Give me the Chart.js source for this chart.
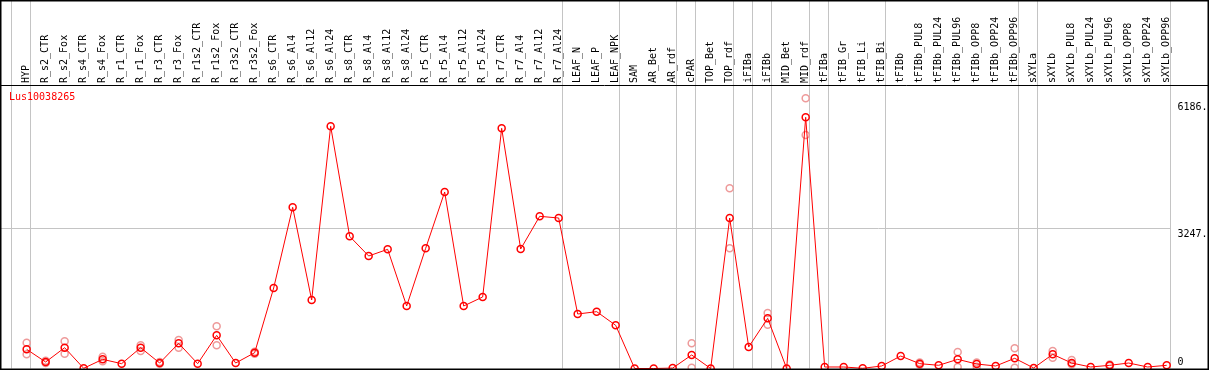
<!DOCTYPE html>
<html>
<head>
<meta charset="utf-8">
<script src="https://cdn.jsdelivr.net/npm/chart.js@4"></script>
<style>
  body { margin: 0; background: #fff; }
</style>
</head>
<body>
<canvas id="grafico" width="1209" height="370"></canvas>
<script>
var gene = 'Lus10038265';

var categorias = ['HYP', 'R_s2_CTR', 'R_s2_Fox', 'R_s4_CTR', 'R_s4_Fox', 'R_r1_CTR', 'R_r1_Fox',
  'R_r3_CTR', 'R_r3_Fox', 'R_r1s2_CTR', 'R_r1s2_Fox', 'R_r3s2_CTR', 'R_r3s2_Fox',
  'R_s6_CTR', 'R_s6_Al4', 'R_s6_Al12', 'R_s6_Al24', 'R_s8_CTR', 'R_s8_Al4', 'R_s8_Al12', 'R_s8_Al24',
  'R_r5_CTR', 'R_r5_Al4', 'R_r5_Al12', 'R_r5_Al24', 'R_r7_CTR', 'R_r7_Al4', 'R_r7_Al12', 'R_r7_Al24',
  'LEAF_N', 'LEAF_P', 'LEAF_NPK', 'SAM', 'AR_Bet', 'AR_rdf', 'cPAR', 'TOP_Bet', 'TOP_rdf',
  'iFIBa', 'iFIBb', 'MID_Bet', 'MID_rdf', 'tFIBa', 'tFIB_Gr', 'tFIB_Li', 'tFIB_Bi', 'tFIBb',
  'tFIBb_PUL8', 'tFIBb_PUL24', 'tFIBb_PUL96', 'tFIBb_OPP8', 'tFIBb_OPP24', 'tFIBb_OPP96',
  'sXYLa', 'sXYLb', 'sXYLb_PUL8', 'sXYLb_PUL24', 'sXYLb_PUL96', 'sXYLb_OPP8', 'sXYLb_OPP24', 'sXYLb_OPP96'];

// media das replicas
var medias = [444, 150, 482, 5, 212, 112, 482, 127, 583, 112, 768, 127, 366,
  1864, 3733, 1586, 5609, 3061, 2605, 2760, 1447, 2783, 4088, 1447, 1656, 5562, 2767, 3524, 3485,
  1262, 1316, 1000, 0, 0, 10, 313, 0, 3485, 498, 1162, 0, 5817, 35, 35, 5, 58, 289,
  112, 74, 212, 104, 58, 236, 12, 328, 127, 35, 74, 127, 35, 74];

// replicas (null = nao visivel)
var replica1 = [598, 180, 629, null, 274, null, 537, 150, 660, null, 977, null, 390,
  null, null, null, null, null, null, null, null, null, null, null, null, null, null, null, null,
  null, null, null, null, null, null, 583, null, 4173, null, 1285, null, 6257, null, null, null, null, null,
  140, null, 382, 140, null, 467, null, 405, 197, null, 90, null, null, null];
var replica2 = [328, 125, 343, null, 166, null, 405, 110, 482, null, 537, null, 340,
  null, null, null, null, null, null, null, null, null, null, null, null, null, null, null, null,
  null, null, null, null, null, null, 19, null, 2783, null, 1015, null, 5408, null, null, null, null, null,
  85, null, 35, 40, null, 19, null, 250, 100, null, 55, null, null, null];

// ultimo indice de cada grupo (-1 = inicio)
var fimGrupos = [-1, 0, 28, 31, 34, 35, 37, 38, 39, 41, 42, 45, 52, 53, 60];

var ticksY = [0, 3247, 6186];

var cinza = '#c4c4c4';
var fonte = { family: 'DejaVu Sans Mono', size: 10 };

function pontos(lista) {
  var out = [];
  lista.forEach(function (v, i) {
    if (v !== null) out.push({ x: i, y: v });
  });
  return out;
}

function semPadding(s) {
  s.paddingTop = 0;
  s.paddingBottom = 0;
  s.paddingLeft = 0;
  s.paddingRight = 0;
}

var moldura = {
  id: 'moldura',
  afterDraw: function (chart) {
    var c = chart.ctx;
    var area = chart.chartArea;
    c.save();
    c.strokeStyle = '#000';
    c.lineWidth = 1;
    c.beginPath();
    c.moveTo(0, Math.round(area.top) - 0.5);
    c.lineTo(chart.width, Math.round(area.top) - 0.5);
    c.stroke();
    c.lineWidth = 2;
    c.strokeRect(0.5, 0.5, chart.width - 1, chart.height - 1);
    c.fillStyle = '#ff0000';
    c.font = '10px "DejaVu Sans Mono"';
    c.textBaseline = 'middle';
    c.fillText(gene, 9, area.top + 11);
    c.restore();
  }
};

var ctx = document.getElementById('grafico').getContext('2d');
var grafico = new Chart(ctx, {
  type: 'line',
  data: {
    datasets: [{
      data: pontos(medias),
      borderColor: '#ff0000',
      borderWidth: 1,
      pointStyle: 'circle',
      pointRadius: 3.5,
      pointBorderWidth: 1.5,
      pointBorderColor: '#ff0000',
      pointBackgroundColor: 'rgba(0,0,0,0)',
      tension: 0,
      clip: false
    }, {
      type: 'scatter',
      data: pontos(replica1),
      showLine: false,
      pointRadius: 3.5,
      pointBorderWidth: 1.5,
      pointBorderColor: '#ee9a9a',
      pointBackgroundColor: 'rgba(0,0,0,0)',
      clip: false
    }, {
      type: 'scatter',
      data: pontos(replica2),
      showLine: false,
      pointRadius: 3.5,
      pointBorderWidth: 1.5,
      pointBorderColor: '#ee9a9a',
      pointBackgroundColor: 'rgba(0,0,0,0)',
      clip: false
    }]
  },
  options: {
    responsive: false,
    animation: false,
    layout: { autoPadding: false, padding: { left: 1, right: 0, top: 0, bottom: 1.5 } },
    plugins: { legend: { display: false }, tooltip: { enabled: false } },
    scales: {
      x: {
        type: 'linear',
        position: 'top',
        min: -1.35,
        max: 60.2,
        afterBuildTicks: function (s) {
          var t = categorias.map(function (c, i) { return { value: i }; });
          fimGrupos.forEach(function (k) { t.push({ value: k + 0.19 }); });
          t.sort(function (a, b) { return a.value - b.value; });
          s.ticks = t;
        },
        afterFit: function (s) { s.height = 86; semPadding(s); },
        grid: {
          color: function (c) {
            return c.tick && !Number.isInteger(c.tick.value) ? cinza : 'rgba(0,0,0,0)';
          },
          tickLength: 86
        },
        border: { display: false },
        ticks: {
          autoSkip: false,
          minRotation: 90,
          maxRotation: 90,
          padding: -83,
          labelOffset: 11.5,
          color: '#000',
          font: fonte,
          callback: function (v) { return Number.isInteger(v) ? categorias[v] : ''; }
        }
      },
      y: {
        type: 'linear',
        position: 'right',
        min: 0,
        max: 6542,
        afterBuildTicks: function (s) {
          s.ticks = ticksY.map(function (v) { return { value: v }; });
        },
        afterFit: function (s) { s.width = 38.5; semPadding(s); },
        grid: {
          color: function (c) {
            return c.tick && c.tick.value === 3247 ? cinza : 'rgba(0,0,0,0)';
          },
          drawTicks: false
        },
        border: { display: false },
        ticks: {
          padding: 7,
          color: '#000',
          font: fonte,
          callback: function (v) { return v === 0 ? ['0', ''] : ['', v + '.']; }
        }
      }
    }
  },
  plugins: [moldura]
});
</script>
</body>
</html>
